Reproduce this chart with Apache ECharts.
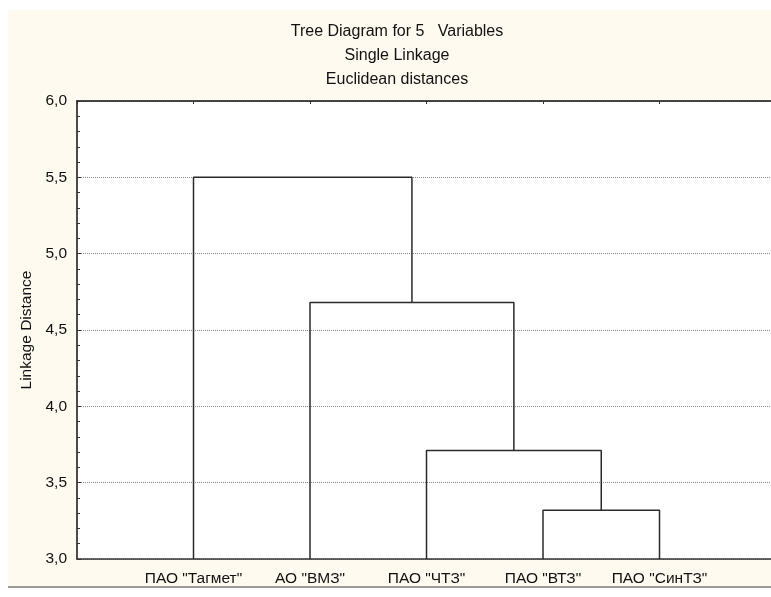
<!DOCTYPE html>
<html>
<head>
<meta charset="utf-8">
<script src="https://cdn.jsdelivr.net/npm/echarts@6/dist/echarts.min.js"></script>
<style>html,body{margin:0;padding:0;background:#fff;}#c{width:771px;height:597px;}</style>
</head>
<body>
<div id="c"></div>
<script>
// Data
const titleLines = ['Tree Diagram for 5   Variables', 'Single Linkage', 'Euclidean distances'];
const leaves = ['ПАО "Тагмет"', 'АО "ВМЗ"', 'ПАО "ЧТЗ"', 'ПАО "ВТЗ"', 'ПАО "СинТЗ"'];
// node ids: 0..4 leaves, 5.. merged clusters in order
const mergePairs = [[3, 4], [2, 5], [1, 6], [0, 7]];
const mergeHeights = [3.32, 3.71, 4.68, 5.50];
const yTicks = [3.0, 3.5, 4.0, 4.5, 5.0, 5.5, 6.0];

const yMin = yTicks[0], yMax = yTicks[yTicks.length - 1];
const nodeX = leaves.map((_, i) => i + 1);
const nodeY = leaves.map(() => yMin);
const segData = [];
mergePairs.forEach((p, k) => {
  const a = p[0], b = p[1], h = mergeHeights[k];
  segData.push([nodeX[a], nodeY[a]], [nodeX[a], h], [nodeX[b], h], [nodeX[b], nodeY[b]], [null, null]);
  nodeX.push((nodeX[a] + nodeX[b]) / 2);
  nodeY.push(h);
});

const FONT = '"Liberation Sans", Arial, sans-serif';
const X_MAX = 5.957; // visible part of the axis (plot continues past the right edge)
const chart = echarts.init(document.getElementById('c'));
chart.setOption({
  backgroundColor: 'transparent',
  animation: false,
  graphic: [
    { type: 'rect', z: -10, shape: { x: 8, y: 10, width: 763, height: 576 }, style: { fill: '#fffaf0' } },
    { type: 'rect', z: -9, shape: { x: 8, y: 586, width: 763, height: 2 }, style: { fill: '#9a9a9a' } }
  ].concat(titleLines.map((t, i) => ({
    type: 'text', x: 397, y: 32 + i * 24,
    style: { text: t, textAlign: 'center', textVerticalAlign: 'middle', font: '16px ' + FONT, fill: '#111' }
  }))),
  grid: { left: 77, top: 101, bottom: 38, right: 0, show: true, backgroundColor: '#fff', borderWidth: 0 },
  xAxis: [{
    type: 'value', min: 0, max: X_MAX, interval: 1, position: 'bottom',
    axisLine: { show: true, lineStyle: { color: '#333', width: 1.5 } },
    axisTick: { show: false },
    splitLine: { show: false },
    axisLabel: {
      margin: 12, color: '#111', fontFamily: FONT, fontSize: 15.5, showMaxLabel: false,
      formatter: v => leaves[v - 1] || ''
    }
  }, {
    type: 'value', min: 0, max: X_MAX, interval: 1, position: 'top',
    axisLine: { show: true, onZero: false, lineStyle: { color: '#111', width: 1.5 } },
    axisTick: { show: true, inside: true, length: 3, lineStyle: { color: '#333' } },
    axisLabel: { show: false },
    splitLine: { show: false }
  }],
  yAxis: {
    type: 'value', min: yMin, max: yMax, interval: 0.5,
    name: 'Linkage Distance', nameLocation: 'middle', nameGap: 41, nameRotate: 90,
    nameTextStyle: { color: '#111', fontFamily: FONT, fontSize: 15.5 },
    axisLine: { show: true, lineStyle: { color: '#111', width: 1.5 } },
    axisTick: { show: true, inside: true, length: 4, lineStyle: { color: '#333' } },
    minorTick: { show: true, splitNumber: 5, length: 3, lineStyle: { color: '#333' } },
    splitLine: { show: true, lineStyle: { color: '#888', type: 'dotted', width: 1 } },
    axisLabel: { color: '#111', fontFamily: FONT, fontSize: 15.5, margin: 10,
      formatter: v => v.toFixed(1).replace('.', ',') }
  },
  series: [{
    type: 'line', data: segData, xAxisIndex: 0, showSymbol: false, symbol: 'none',
    connectNulls: false, lineStyle: { color: '#2a2a2a', width: 1.5 }, silent: true, clip: true
  }]
});
</script>
</body>
</html>
